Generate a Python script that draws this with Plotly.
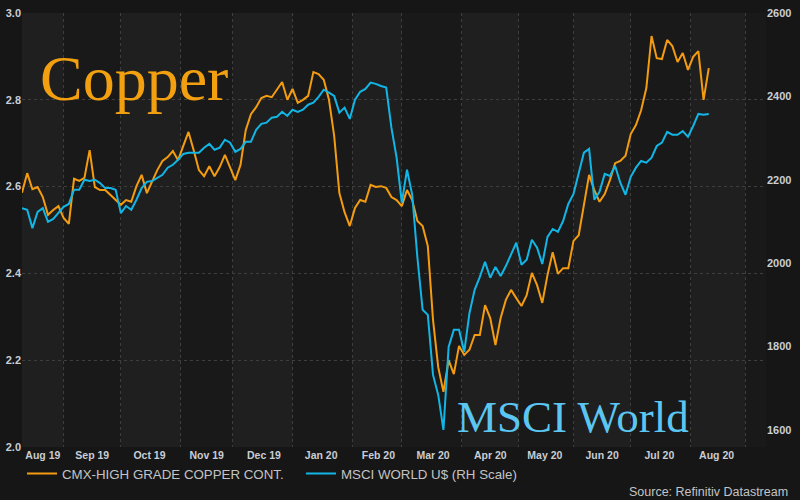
import plotly.graph_objects as go
import pandas as pd

# ---------------- data ----------------
start_date = "2019-08-08"          # first observation, sampled every 2 business days
x_range = ["2019-08-08", "2020-09-11"]

copper = [
    2.586, 2.631, 2.594, 2.599, 2.576, 2.535, 2.546, 2.555, 2.528, 2.514,
    2.618, 2.613, 2.620, 2.684, 2.599, 2.592, 2.592, 2.581, 2.569, 2.558,
    2.569, 2.565, 2.601, 2.627, 2.585, 2.611, 2.638, 2.659, 2.668, 2.682,
    2.661, 2.694, 2.726, 2.684, 2.638, 2.624, 2.647, 2.624, 2.645, 2.673,
    2.643, 2.615, 2.650, 2.730, 2.767, 2.783, 2.804, 2.809, 2.806, 2.823,
    2.841, 2.800, 2.825, 2.793, 2.800, 2.809, 2.864, 2.859, 2.846, 2.800,
    2.717, 2.585, 2.541, 2.509, 2.551, 2.569, 2.565, 2.604, 2.599, 2.601,
    2.597, 2.576, 2.569, 2.555, 2.592, 2.569, 2.521, 2.509, 2.463, 2.293,
    2.184, 2.127, 2.200, 2.168, 2.233, 2.212, 2.224, 2.258, 2.258, 2.327,
    2.297, 2.235, 2.297, 2.339, 2.362, 2.343, 2.325, 2.350, 2.401, 2.373,
    2.332, 2.396, 2.449, 2.399, 2.412, 2.412, 2.475, 2.488, 2.553, 2.627,
    2.592, 2.565, 2.583, 2.615, 2.654, 2.659, 2.671, 2.721, 2.742, 2.776,
    2.827, 2.947, 2.896, 2.894, 2.938, 2.924, 2.887, 2.908, 2.869, 2.899,
    2.912, 2.800, 2.873,
]

msci = [
    2132, 2128, 2084, 2123, 2132, 2099, 2106, 2120, 2135, 2142,
    2176, 2176, 2200, 2197, 2200, 2192, 2180, 2180, 2176, 2120,
    2137, 2128, 2152, 2180, 2195, 2197, 2205, 2212, 2229, 2236,
    2248, 2262, 2265, 2265, 2265, 2277, 2286, 2272, 2277, 2296,
    2289, 2267, 2274, 2291, 2291, 2320, 2334, 2337, 2349, 2351,
    2363, 2353, 2368, 2363, 2368, 2380, 2385, 2399, 2416, 2409,
    2401, 2361, 2373, 2346, 2392, 2411, 2418, 2433, 2430, 2425,
    2421, 2325, 2253, 2145, 2224, 2164, 2013, 1888, 1876, 1732,
    1684, 1600, 1799, 1840, 1840, 1787, 1880, 1936, 1967, 2003,
    1965, 1991, 1969, 1993, 2020, 2049, 1996, 2008, 2056, 2037,
    1998, 2063, 2082, 2075, 2101, 2142, 2166, 2219, 2265, 2274,
    2152, 2171, 2214, 2209, 2233, 2193, 2164, 2207, 2229, 2245,
    2241, 2253, 2281, 2289, 2315, 2308, 2308, 2317, 2303, 2329,
    2358, 2356, 2358,
]

month_labels = ["Aug 19", "Sep 19", "Oct 19", "Nov 19", "Dec 19", "Jan 20", "Feb 20",
                "Mar 20", "Apr 20", "May 20", "Jun 20", "Jul 20", "Aug 20"]
left_ticks = [2.0, 2.2, 2.4, 2.6, 2.8, 3.0]
left_range = [2.0, 3.0]
right_ticks = [1600, 1800, 2000, 2200, 2400, 2600]
right_range = [1559, 2600]

copper_name = "CMX-HIGH GRADE COPPER CONT."
msci_name = "MSCI WORLD U$ (RH Scale)"
copper_label = "Copper"
msci_label = "MSCI World"
source_text = "Source: Refinitiv Datastream"

# ---------------- styling ----------------
ORANGE = "#f39c12"
BLUE = "#12b6e6"
PAPER = "#161616"
DARK_BAND = "#191919"
LIGHT_BAND = "#1f1f1f"
GRID = "#3e3e3e"
TICK_COLOR = "#c9cdd4"

dates = pd.bdate_range(start=start_date, periods=len(copper), freq="2B")

# month label positions: middle of the visible business days of each month
range_start = pd.Timestamp(x_range[0])
month_starts = pd.date_range("2019-08-01", "2020-10-01", freq="MS")
label_pos = []
for i in range(len(month_labels)):
    days = pd.bdate_range(max(month_starts[i], range_start),
                          month_starts[i + 1] - pd.Timedelta(days=1))
    label_pos.append(days[len(days) // 2])

fig = go.Figure()
fig.add_trace(go.Scatter(
    x=dates, y=msci, name=msci_name, mode="lines", yaxis="y2",
    line=dict(color=BLUE, width=2), legendrank=2,
))
fig.add_trace(go.Scatter(
    x=dates, y=copper, name=copper_name, mode="lines", yaxis="y",
    line=dict(color=ORANGE, width=2), legendrank=1,
))

# alternating month bands
shapes = []
for i in range(0, len(month_starts) - 1, 2):
    shapes.append(dict(
        type="rect", xref="x", yref="paper",
        x0=month_starts[i], x1=month_starts[i + 1], y0=0, y1=1,
        fillcolor=LIGHT_BAND, line=dict(width=0), layer="below",
    ))

tick_font = dict(family="Liberation Sans, Arial", size=11, color=TICK_COLOR, weight="bold")

fig.update_layout(
    width=800, height=500,
    margin=dict(l=22, r=34, t=13, b=53, autoexpand=False),
    paper_bgcolor=PAPER, plot_bgcolor=DARK_BAND,
    shapes=shapes,
    showlegend=True,
    legend=dict(
        orientation="h", x=0.0, xanchor="left", y=-0.062, yanchor="middle",
        font=dict(family="Liberation Sans, Arial", size=13.3, color="#c4c4c4"),
        bgcolor="rgba(0,0,0,0)", traceorder="normal",
        entrywidth=234, entrywidthmode="pixels",
    ),
    xaxis=dict(
        type="date", range=x_range, automargin=False,
        rangebreaks=[dict(bounds=["sat", "mon"])],
        tickmode="array", tickvals=label_pos, ticktext=month_labels,
        showgrid=False, zeroline=False, showline=False, ticks="",
        minor=dict(dtick="M1", tick0="2019-08-01", showgrid=True,
                   gridcolor=GRID, griddash="3px,3px", gridwidth=1, ticks=""),
        tickfont=dict(family="Liberation Sans, Arial", size=10.5, color=TICK_COLOR, weight="bold"),
    ),
    yaxis=dict(
        range=left_range, tickvals=left_ticks, tickformat=".1f", automargin=False,
        showgrid=True, gridcolor=GRID, griddash="3px,3px", gridwidth=1,
        zeroline=False, showline=False, ticks="", tickfont=tick_font,
    ),
    yaxis2=dict(
        range=right_range, tickvals=right_ticks, overlaying="y", side="right",
        automargin=False, showgrid=False, zeroline=False, showline=False, ticks="",
        tickfont=tick_font,
    ),
    annotations=[
        dict(text=copper_label, xref="paper", yref="paper", x=0.021, y=0.85,
             xanchor="left", yanchor="middle", showarrow=False,
             font=dict(family="Liberation Serif, Times New Roman", size=64, color="#f2a00f")),
        dict(text=msci_label, xref="paper", yref="paper", x=0.582, y=0.07,
             xanchor="left", yanchor="middle", showarrow=False,
             font=dict(family="Liberation Serif, Times New Roman", size=45, color="#5cc6f2")),
        dict(text=source_text, xref="paper", yref="paper", x=1.032, y=-0.104,
             xanchor="right", yanchor="middle", showarrow=False,
             font=dict(family="Liberation Sans, Arial", size=12.5, color="#c4c4c4")),
    ],
)

# remove the browser's default page margin so the 800x500 figure fills the window
page_css = "document.body.style.margin='0px';document.body.style.background='" + PAPER + "';"
fig.write_html("out.html", config={"displayModeBar": False}, post_script=page_css)
